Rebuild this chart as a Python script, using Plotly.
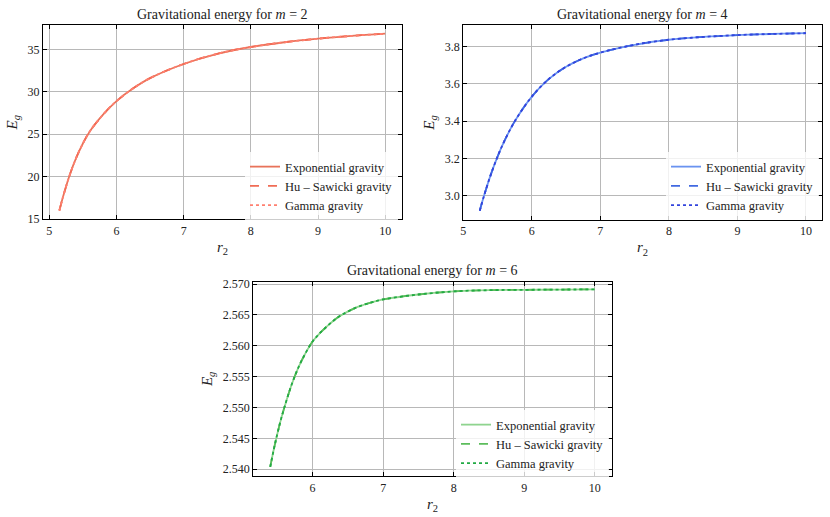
import plotly.graph_objects as go

# m = 2
r2_m2 = [5.15, 5.2, 5.3, 5.4, 5.5, 5.6, 5.8, 6.0, 6.25, 6.5, 7.0, 7.5, 8.0, 8.5, 9.0, 9.5, 10.0]
eg_m2 = [16.0, 17.5, 20.1, 22.2, 23.9, 25.3, 27.3, 28.9, 30.4, 31.6, 33.27, 34.47, 35.27, 35.83, 36.25, 36.58, 36.84]

# m = 4
r2_m4 = [5.24, 5.3, 5.4, 5.5, 5.6, 5.75, 6.0, 6.25, 6.5, 6.75, 7.0, 7.5, 8.0, 8.5, 9.0, 9.5, 10.0]
eg_m4 = [2.919, 2.997, 3.112, 3.210, 3.294, 3.399, 3.532, 3.627, 3.692, 3.737, 3.768,
         3.810, 3.837, 3.852, 3.862, 3.868, 3.872]

# m = 6
r2_m6 = [5.4, 5.45, 5.5, 5.55, 5.6, 5.7, 5.8, 5.9, 6.0, 6.1, 6.2, 6.3, 6.4, 6.6, 6.8, 7.0,
         7.5, 8.0, 8.5, 9.0, 9.5, 10.0]
eg_m6 = [2.5404, 2.5432, 2.5457, 2.5480, 2.5500, 2.5536, 2.5565, 2.5588, 2.5607, 2.5620, 2.5631,
         2.5641, 2.5649, 2.5661, 2.5669, 2.5675, 2.5683, 2.5688, 2.5690, 2.56905, 2.5691, 2.56912]

models = ["Exponential gravity", "Hu \u2013 Sawicki gravity", "Gamma gravity"]
dashes = ["solid", "dash", "dot"]
colors_m2 = ["#E8735A", "#F06C55", "#FF8070"]
colors_m4 = ["#6A93F0", "#4169E1", "#3344DD"]
colors_m6 = ["#8FD48F", "#5CBD5C", "#22AA44"]

FONT = "Liberation Serif"

fig = go.Figure()

panels = [
    (r2_m2, eg_m2, colors_m2, "x", "y", "legend"),
    (r2_m4, eg_m4, colors_m4, "x2", "y2", "legend2"),
    (r2_m6, eg_m6, colors_m6, "x3", "y3", "legend3"),
]
for xs, ys, cols, xa, ya, lg in panels:
    for name, dash, col in zip(models, dashes, cols):
        fig.add_trace(go.Scatter(
            x=xs, y=ys, mode="lines", name=name, line_shape="spline",
            line=dict(color=col, width=1.8, dash=dash),
            xaxis=xa, yaxis=ya, legend=lg,
        ))

axis_common = dict(
    showline=True, mirror="ticks", linecolor="black", linewidth=1.2,
    ticks="inside", ticklen=4, tickcolor="black", automargin=False,
    showgrid=True, gridcolor="#b8b8b8", gridwidth=1, zeroline=False,
    tickfont=dict(family=FONT, size=12, color="#222"),
)

def xtitle():
    return dict(text="<i>r</i><sub>2</sub>", font=dict(family=FONT, size=15, color="#222"), standoff=4)

def ytitle():
    return dict(text="<i>E</i><sub><i>g</i></sub>", font=dict(family=FONT, size=15, color="#222"), standoff=6)

fig.update_layout(
    width=830, height=517,
    margin=dict(l=0, r=0, t=0, b=0),
    paper_bgcolor="white", plot_bgcolor="white",
    font=dict(family=FONT, color="#222"),
    xaxis=dict(domain=[0.0518, 0.4843], range=[4.906, 10.25], dtick=1, anchor="y",
               title=xtitle(), **axis_common),
    yaxis=dict(domain=[0.5758, 0.9516], range=[14.97, 37.86], dtick=5, anchor="x",
               title=ytitle(), **axis_common),
    xaxis2=dict(domain=[0.5582, 0.99], range=[5.0, 10.23], dtick=1, anchor="y2",
                title=xtitle(), **axis_common),
    yaxis2=dict(domain=[0.5745, 0.9516], range=[2.87, 3.916], dtick=0.2, tickformat=".1f",
                anchor="x2", title=ytitle(), **axis_common),
    xaxis3=dict(domain=[0.3052, 0.737], range=[5.16, 10.24], dtick=1, anchor="y3",
                title=xtitle(), **axis_common),
    yaxis3=dict(domain=[0.0793, 0.4551], range=[2.53891, 2.57037], dtick=0.005, tickformat=".3f",
                anchor="x3", title=ytitle(), **axis_common),
)

leg_common = dict(
    bgcolor="rgba(255,255,255,0.8)", borderwidth=0,
    font=dict(family=FONT, size=12.5, color="#222"),
    xanchor="left", yanchor="top", tracegroupgap=0, itemwidth=30,
)
fig.update_layout(
    legend=dict(x=245 / 830, y=1 - 152 / 517, **leg_common),
    legend2=dict(x=666 / 830, y=1 - 152 / 517, **leg_common),
    legend3=dict(x=456 / 830, y=1 - 410 / 517, **leg_common),
)

titles = [
    ("Gravitational energy for <i>m</i> = 2", 0.268, 0.952),
    ("Gravitational energy for <i>m</i> = 4", 0.774, 0.952),
    ("Gravitational energy for <i>m</i> = 6", 0.521, 0.456),
]
for text, x, y in titles:
    fig.add_annotation(text=text, x=x, y=y, xref="paper", yref="paper",
                       xanchor="center", yanchor="bottom", showarrow=False, yshift=1,
                       font=dict(family=FONT, size=14, color="#222"))

# drop the default page margin so the figure sits at the window's corner
fig.write_html("out.html", config={"displayModeBar": False},
               post_script="document.body.style.margin = '0';")
